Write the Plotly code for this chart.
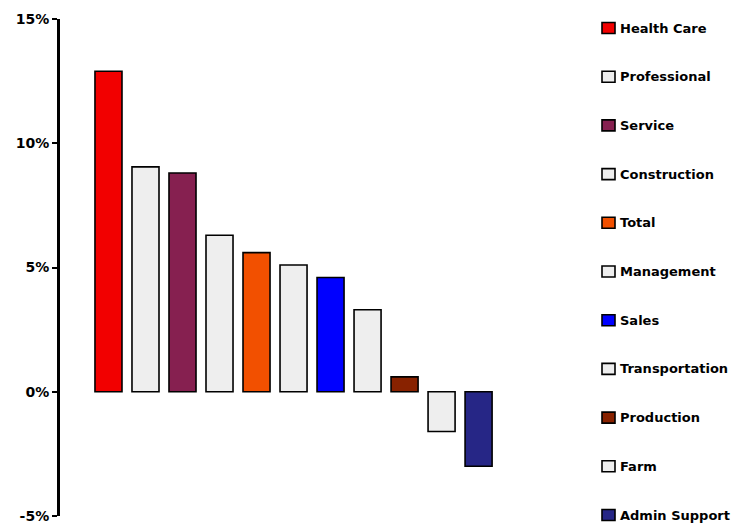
import plotly.graph_objects as go

# Employment change by occupation group (percent)
categories = ["Health Care", "Professional", "Service", "Construction", "Total",
              "Management", "Sales", "Transportation", "Production", "Farm",
              "Admin Support"]
values = [12.9, 9.05, 8.8, 6.3, 5.6, 5.1, 4.6, 3.3, 0.6, -1.6, -3.0]
colors = ["#F20000", "#EEEEEE", "#862050", "#EEEEEE", "#F25000", "#EEEEEE",
          "#0000FF", "#EEEEEE", "#882200", "#EEEEEE", "#262686"]
tick_vals = [-5, 0, 5, 10, 15]
tick_text = ["-5%", "0%", "5%", "10%", "15%"]

FONT = "DejaVu Sans"
W, H = 734, 525
M_L, M_R, M_T, M_B = 60, 0, 19, 9
PLOT_W = W - M_L - M_R
PLOT_H = H - M_T - M_B


def px_to_paper_x(px):
    return (px - M_L) / PLOT_W


def px_to_paper_y(py):
    return (H - M_B - py) / PLOT_H


fig = go.Figure()
for name, val, col in zip(categories, values, colors):
    fig.add_trace(go.Bar(
        x=[name], y=[val], name=name, showlegend=False,
        marker=dict(color=col, line=dict(color="black", width=1.6)),
    ))

# Key on the right: a swatch and a label per occupation group
KEY_TOP, KEY_STEP = 28, 48.7
SW_X0, SW_X1, SW_HALF = 602, 615, 5.5
TEXT_X = 618
shapes, annotations = [], []
for i, (name, col) in enumerate(zip(categories, colors)):
    cy = KEY_TOP + KEY_STEP * i
    shapes.append(dict(
        type="rect", xref="paper", yref="paper",
        x0=px_to_paper_x(SW_X0), x1=px_to_paper_x(SW_X1),
        y0=px_to_paper_y(cy + SW_HALF), y1=px_to_paper_y(cy - SW_HALF),
        fillcolor=col, line=dict(color="black", width=1.6),
    ))
    annotations.append(dict(
        xref="paper", yref="paper", x=px_to_paper_x(TEXT_X), y=px_to_paper_y(cy),
        xanchor="left", yanchor="middle", text=name, showarrow=False,
        font=dict(family=FONT, size=13, color="black", weight="bold"),
    ))

fig.update_layout(
    width=W, height=H,
    margin=dict(l=M_L, r=M_R, t=M_T, b=M_B),
    paper_bgcolor="white", plot_bgcolor="white",
    barmode="relative", bargap=0.27,
    showlegend=False,
    shapes=shapes, annotations=annotations,
    xaxis=dict(visible=False, domain=[0, 0.7715], range=[-1.31, 12.74],
               categoryorder="array", categoryarray=categories),
    yaxis=dict(
        range=[-5, 15], tickvals=tick_vals, ticktext=tick_text,
        showgrid=False, zeroline=False,
        showline=True, linecolor="black", linewidth=3,
        ticks="outside", ticklen=5, tickwidth=2, tickcolor="black",
        tickfont=dict(family=FONT, size=14, color="black", weight="bold"),
    ),
)

fig.write_html("out.html")
